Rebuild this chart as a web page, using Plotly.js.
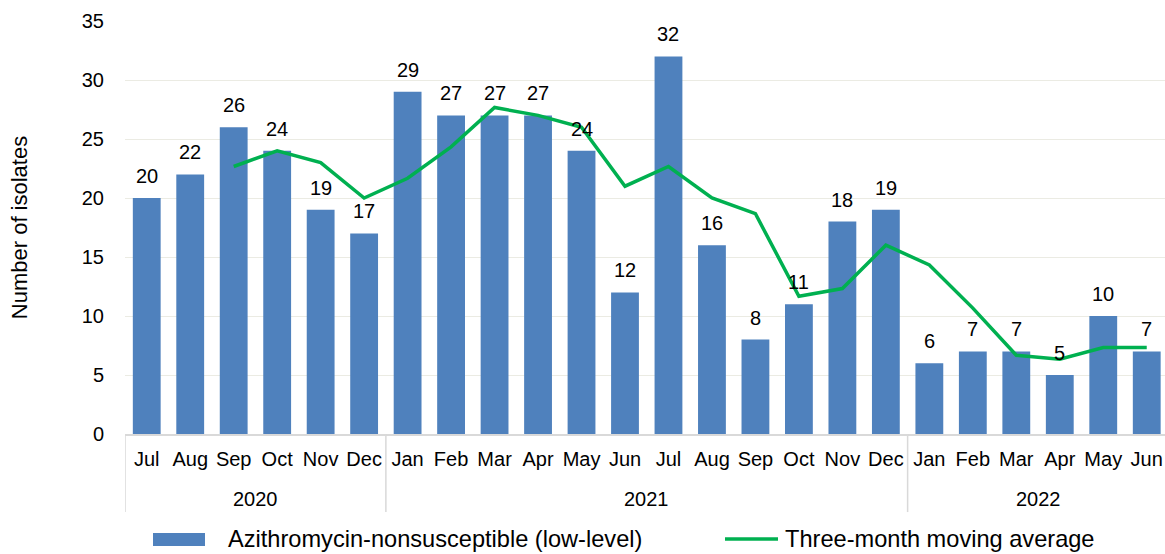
<!DOCTYPE html>
<html><head><meta charset="utf-8">
<script src="https://cdn.plot.ly/plotly-3.0.1.min.js"></script>
<style>html,body{margin:0;padding:0;background:#fff}</style>
</head><body>
<div id="chart" style="width:1165px;height:554px"></div>
<script>
const years = ["2020","2020","2020","2020","2020","2020",
  "2021","2021","2021","2021","2021","2021","2021","2021","2021","2021","2021","2021",
  "2022","2022","2022","2022","2022","2022"];
const months = ["Jul","Aug","Sep","Oct","Nov","Dec",
  "Jan","Feb","Mar","Apr","May","Jun","Jul","Aug","Sep","Oct","Nov","Dec",
  "Jan","Feb","Mar","Apr","May","Jun"];
const isolates = [20,22,26,24,19,17,29,27,27,27,24,12,32,16,8,11,18,19,6,7,7,5,10,7];
const movingAvg = [null,null,22.67,24,23,20,21.67,24.33,27.67,27,26,21,22.67,20,18.67,11.67,12.33,16,14.33,10.67,6.67,6.33,7.33,7.33];
const barName = "Azithromycin-nonsusceptible (low-level)";
const lineName = "Three-month moving average";

const FAM = "Liberation Sans, Arial, sans-serif";
const idx = months.map((_, i) => i);

// year groups derived from the years array
const groups = [];
years.forEach((y, i) => {
  const g = groups[groups.length - 1];
  if (g && g.year === y) g.end = i; else groups.push({year: y, start: i, end: i});
});

const traces = [
  {type:"bar", name:barName, x:idx, y:isolates, marker:{color:"#4F81BD"}, hoverinfo:"y"},
  {type:"scatter", mode:"lines", name:lineName, x:idx, y:movingAvg,
   line:{color:"#00B050", width:3.5}, connectgaps:false}
];

const annotations = [];
const shapes = [];
// data labels
isolates.forEach((v, i) => annotations.push({x:i, y:v, xref:"x", yref:"y", text:String(v),
  showarrow:false, yanchor:"bottom", yshift:9, font:{family:FAM, size:20, color:"#000"}}));
// year labels + dividers
groups.forEach(g => {
  annotations.push({x:(g.start + g.end) / 2, y:-0.157, xref:"x", yref:"paper", text:g.year,
    showarrow:false, yanchor:"middle", font:{family:FAM, size:20, color:"#000"}});
  shapes.push({type:"line", xref:"x", yref:"paper", x0:g.start - 0.5, x1:g.start - 0.5, y0:0, y1:-0.189,
    line:{color:"#d9d9d9", width:1.5}});
});
// legend (manual, to match wide swatch)
shapes.push({type:"rect", xref:"paper", yref:"paper", x0:(153-125)/1040, x1:(205-125)/1040,
  y0:(434-546)/413, y1:(434-533)/413, fillcolor:"#4F81BD", line:{width:0}});
annotations.push({x:(226-125)/1040, y:(434-539)/413, xref:"paper", yref:"paper", text:barName,
  showarrow:false, xanchor:"left", yanchor:"middle", font:{family:FAM, size:23.6, color:"#000"}});
shapes.push({type:"line", xref:"paper", yref:"paper", x0:(725-125)/1040, x1:(778-125)/1040,
  y0:(434-539)/413, y1:(434-539)/413, line:{color:"#00B050", width:3.5}});
annotations.push({x:(783-125)/1040, y:(434-539)/413, xref:"paper", yref:"paper", text:lineName,
  showarrow:false, xanchor:"left", yanchor:"middle", font:{family:FAM, size:23.6, color:"#000"}});

const layout = {
  width:1165, height:554,
  margin:{l:125, r:0, t:21, b:120},
  font:{family:FAM, size:20, color:"#000"},
  paper_bgcolor:"#fff", plot_bgcolor:"#fff",
  bargap:0.36,
  showlegend:false,
  annotations, shapes,
  xaxis:{range:[-0.5, 23.42], tickmode:"array", tickvals:idx, ticktext:months,
    showline:true, linecolor:"#d9d9d9", linewidth:1.5, showgrid:false, zeroline:false,
    ticks:"outside", ticklen:6, tickcolor:"rgba(0,0,0,0)", tickfont:{size:20}},
  yaxis:{range:[0,35], dtick:5, showgrid:true, gridcolor:"#ebebe3", gridwidth:1, zeroline:false, showline:false,
    ticks:"outside", ticklen:16, tickcolor:"rgba(0,0,0,0)", tickfont:{size:20},
    title:{text:"Number of isolates", font:{size:22}, standoff:48}}
};
Plotly.newPlot("chart", traces, layout, {displayModeBar:false, staticPlot:true});
</script>
</body></html>
